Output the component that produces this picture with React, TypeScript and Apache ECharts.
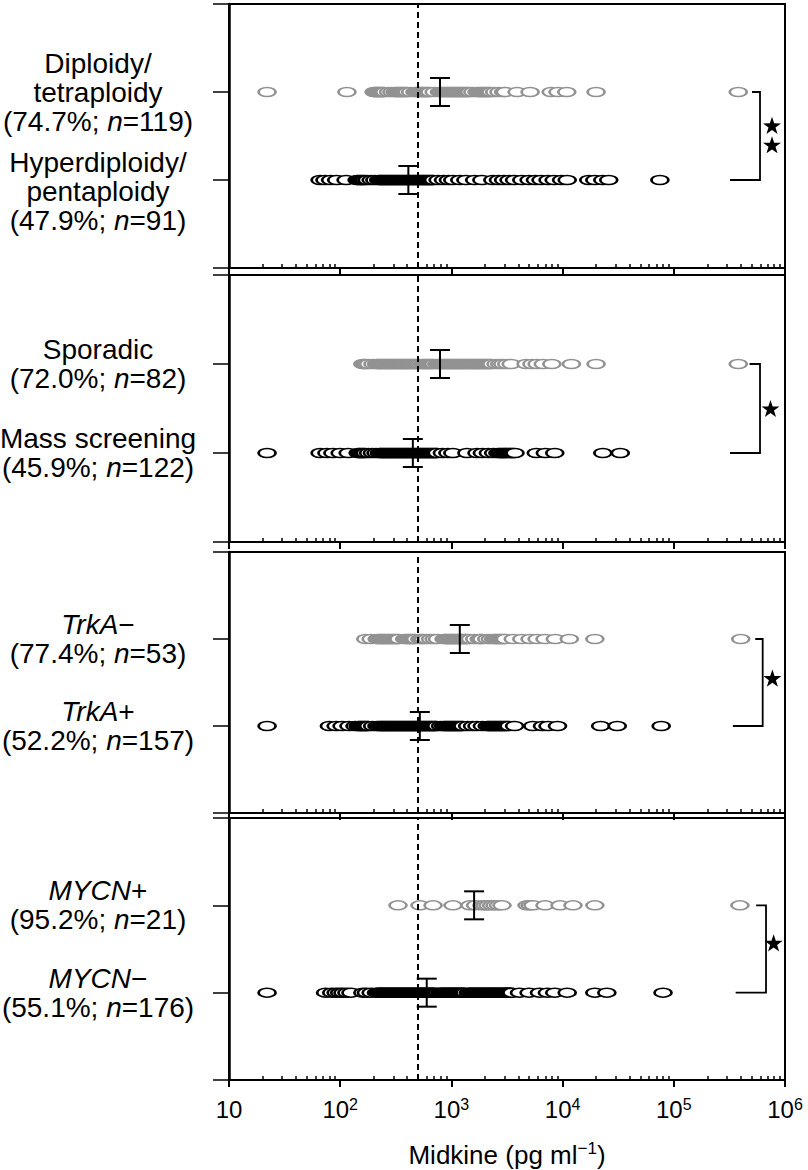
import React, { useEffect, useRef } from 'react';
import * as echarts from 'echarts';

// ---------- DATA ----------
const upperLabels = [
  'Diploidy/\ntetraploidy\n(74.7%; {i|n}=119)',
  'Sporadic\n(72.0%; {i|n}=82)',
  '{i|TrkA}−\n(77.4%; {i|n}=53)',
  '{i|MYCN}+\n(95.2%; {i|n}=21)',
];
const lowerLabels = [
  '{e| }\nHyperdiploidy/\npentaploidy\n(47.9%; {i|n}=91)',
  'Mass screening\n(45.9%; {i|n}=122)',
  '{i|TrkA}+\n(52.2%; {i|n}=157)',
  '{i|MYCN}−\n(55.1%; {i|n}=176)',
];

const diploidyValues = [22, 115,
  202, 205, 209, 213, 217, 221, 225, 230, 235, 240, 245, 251,
  272, 292, 312, 320, 329, 338, 347, 357, 367, 378, 389, 400,
  430, 470, 483, 497, 511, 526, 541, 556, 572, 589, 606, 623, 641,
  700, 780, 803, 826, 850, 875, 900, 926, 953, 980, 1008, 1037, 1067, 1098, 1130, 1162, 1196, 1230, 1266, 1302, 1340, 1378, 1418, 1459,
  1560, 1700, 1760, 1810, 1862, 1915, 1970, 2027, 2085, 2145, 2207, 2270,
  2450, 2680, 2950, 3050,
  3900, 5100, 7900, 9100, 10900, 20000, 380000];
const hyperdiploidyValues = [66, 73, 82, 93, 113,
  142, 146, 151, 156, 161, 166, 175, 190, 205, 222, 228, 234, 240, 247, 254, 261, 268, 276, 284, 292, 300, 309, 318, 327, 336, 346, 356, 366, 377, 388, 399, 411, 423, 435, 448, 461, 474, 488, 502, 517, 532, 548, 564, 580, 597, 615, 633, 652, 671, 690,
  760, 850, 940, 1030, 1190, 1350, 1620, 1880, 2360, 2650, 2950, 3300, 3700, 4300, 5000, 5700, 6400, 7400, 8400, 9800, 11000, 17200, 19500, 23000, 26000, 75000];
const sporadicValues = [160, 165, 171, 180, 197, 212, 218, 224, 230, 237, 244, 251, 258, 266, 274, 282, 290, 299, 308, 317, 326, 336, 346, 356, 367, 378, 389, 400, 412, 424, 437, 450, 463, 477, 491, 506, 521, 550, 565, 582, 599, 617, 635, 654, 673, 693, 740, 765, 788, 811, 835, 860, 885, 911, 938, 966, 995, 1024, 1054, 1085, 1117, 1150, 1184, 1219, 1255, 1292, 1330, 1369, 1409, 1451, 1494, 1538, 1583, 1630, 1678, 1727, 1778, 1830, 1884, 1940, 1997, 2056, 2116, 2178, 2242, 2308, 2520, 2720, 2900, 3150, 3450,
  4700, 5300, 5900, 6700, 8000, 12000, 20000, 380000];
const massScreeningValues = [22, 66, 76, 86, 100, 118,
  145, 149, 153, 158, 163, 168, 180, 195, 210, 225, 231, 237, 243, 249, 256, 263, 270, 277, 284, 292, 300, 308, 316, 325, 334, 343, 352, 362, 372, 382, 392, 403, 414, 425, 437, 449, 461, 474, 487, 500, 514, 528, 542, 557, 572, 588, 604, 620, 637, 655, 673, 691, 710, 729, 745,
  830, 930, 1030, 1380, 1700, 1900, 2150, 2400, 2620, 2700, 2780, 2860, 2940, 3030, 3120, 3210, 3310, 3410, 3510, 3620, 3730,
  5800, 7000, 8500, 23000, 33000];
const trkaNegValues = [170, 190, 215, 221, 228, 235, 242, 249, 257, 265, 273, 281, 290, 299, 308, 317, 327, 337, 380, 395, 408, 421, 434, 448, 462, 476, 520, 540, 560, 600, 650, 700, 750, 860, 880, 902, 924, 947, 970, 994, 1018, 1043, 1068, 1094, 1121, 1148, 1176, 1205, 1234, 1264, 1295, 1327, 1359, 1392, 1480, 1620, 1780, 1830, 1880, 2080, 2240, 2400, 2470, 2540, 2620, 2700, 2780, 2860, 2950, 3050,
  3600, 4300, 5100, 5900, 6950, 8600, 11500, 19500, 400000];
const trkaPosValues = [22, 80, 92, 104, 120, 136,
  145, 149, 153, 157, 161, 166, 170, 175, 180, 196, 214, 222, 229, 235, 241, 247, 253, 259, 266, 273, 280, 287, 294, 302, 310, 318, 326, 334, 343, 352, 361, 370, 380, 390, 400, 410, 421, 432, 443, 454, 466, 478, 490, 503, 516, 529, 543, 557, 571, 586, 601, 617, 633, 649, 666, 683, 701, 719, 737,
  800, 850, 875, 900, 926, 953, 980, 1008, 1037, 1067, 1098, 1130, 1162, 1196, 1230, 1270, 1400, 1550, 1700, 1900, 2100, 2160, 2220, 2290, 2360, 2430, 2500, 2580, 2660, 2740, 2820, 2910, 3000, 3100, 3200, 3300, 3700,
  5400, 6600, 7400, 9000, 22000, 31000, 77000];
const mycnPosValues = [331, 522, 684, 1033, 1468, 1650, 1884, 2000, 2135, 2300, 2467, 2650, 2853, 4786, 5100, 5420, 6950, 9490, 12400, 19500, 393000];
const mycnNegValues = [22, 74, 84, 92, 99, 106, 115, 125, 160, 172, 190, 212, 218, 224, 230, 236, 242, 248, 255, 262, 269, 276, 284, 292, 300, 308, 316, 325, 334, 343, 352, 362, 372, 382, 392, 403, 414, 425, 437, 449, 461, 474, 487, 500, 514, 528, 542, 557, 572, 588, 604, 620, 637, 655, 673, 691, 710, 750, 790, 812, 835, 858, 882, 906, 931, 957, 983, 1010, 1038, 1067, 1096, 1126, 1157, 1189, 1222, 1256, 1290, 1326, 1420, 1460, 1500, 1542, 1585, 1629, 1674, 1720, 1768, 1817, 1867, 1919, 1972, 2027, 2083, 2141, 2200, 2261, 2323, 2387, 2453, 2521, 2591, 2663, 2736, 2812, 2890, 2970, 3052, 3136, 3223, 3312, 3404, 3500,
  4100, 5000, 6200, 7300, 8500, 11000, 19500, 25000, 80000];

const upperValues = [diploidyValues, sporadicValues, trkaNegValues, mycnPosValues];
const lowerValues = [hyperdiploidyValues, massScreeningValues, trkaPosValues, mycnNegValues];

const upperMedians = [790, 790, 1190, 1600];
const lowerMedians = [410, 450, 520, 600];
const cutoffValue = 500;

// bracket: [top arm start, vertical x, bottom arm start]
const brackets = [
  [505000, 596000, 320000],
  [480000, 596000, 320000],
  [540000, 630000, 340000],
  [550000, 675000, 360000],
];
const starX = [764000, 740000, 770000, 790000];
const starRows = [[1.62, 1.4], [1.5], [1.55], [1.57]];

const majorTickValues = [10, 100, 1000, 10000, 100000, 1000000];
const majorTickLabels = ['10', '10{s|2}', '10{s|3}', '10{s|4}', '10{s|5}', '10{s|6}'];
const minorTickValues = [
  20, 30, 40, 50, 60, 70, 80, 90,
  200, 300, 400, 500, 600, 700, 800, 900,
  2000, 3000, 4000, 5000, 6000, 7000, 8000, 9000,
  20000, 30000, 40000, 50000, 60000, 70000, 80000, 90000,
  200000, 300000, 400000, 500000, 600000, 700000, 800000, 900000,
];
const axisTitle = 'Midkine (pg ml{s|−1})';

// ---------- LAYOUT ----------
const panelBoxes = [
  { top: 4, height: 264 },
  { top: 275, height: 267 },
  { top: 552, height: 261 },
  { top: 818, height: 262 },
];
const FONT = '"Liberation Sans", Arial, Helvetica, sans-serif';
const ELLIPSE = 'path://M0,5A8,5,0,1,1,16,5A8,5,0,1,1,0,5Z';
const STAR = 'path://M50,0L61.8,35.1L98.9,35.5L69.1,57.6L80.1,93.1L50,71.5L19.9,93.1L30.9,57.6L1.1,35.5L38.2,35.1Z';
const GREY = '#929292';

export default function App() {
  const ref = useRef<HTMLDivElement>(null);

  useEffect(() => {
    const chart = echarts.init(ref.current as HTMLDivElement, null, { renderer: 'svg' });
    const grids: any[] = [];
    const xAxes: any[] = [];
    const yAxes: any[] = [];
    const series: any[] = [];

    panelBoxes.forEach((box, i) => {
      const isLast = i === panelBoxes.length - 1;
      grids.push({
        left: 229, width: 556, top: box.top, height: box.height,
        show: true, borderColor: '#000', borderWidth: 2, backgroundColor: 'transparent',
        containLabel: false, outerBoundsMode: 'none',
      });
      xAxes.push({
        gridIndex: i, type: 'log', logBase: 10, min: 10, max: 1000000, position: 'bottom',
        axisLine: { show: true, onZero: false, lineStyle: { color: '#000', width: 2 } },
        axisTick: { show: true, inside: false, length: 7, customValues: majorTickValues, lineStyle: { color: '#000', width: 2 } },
        axisLabel: {
          show: isLast, customValues: majorTickValues, margin: 16,
          color: '#000', fontFamily: FONT, fontSize: 24, lineHeight: 26,
          formatter: (v: number) => majorTickLabels[Math.round(Math.log10(v)) - 1] || '',
          rich: { s: { fontSize: 16, lineHeight: 16, verticalAlign: 'top', fontFamily: FONT, color: '#000' } },
        },
        splitLine: { show: false },
        minorTick: { show: false },
        name: isLast ? axisTitle : '',
        nameLocation: 'middle', nameGap: 60, nameMoveOverlap: false,
        nameTextStyle: {
          color: '#000', fontFamily: FONT, fontSize: 26, lineHeight: 30,
          rich: { s: { fontSize: 17, lineHeight: 17, verticalAlign: 'top', fontFamily: FONT, color: '#000' } },
        },
      });
      xAxes.push({
        gridIndex: i, type: 'log', logBase: 10, min: 10, max: 1000000, position: 'bottom',
        axisLine: { show: false, onZero: false },
        axisTick: { show: true, inside: true, length: 4, customValues: minorTickValues, lineStyle: { color: '#000', width: 1.5 } },
        axisLabel: { show: false },
        splitLine: { show: false },
      });
      yAxes.push({
        gridIndex: i, type: 'value', min: 0, max: 3, interval: 1, position: 'left',
        axisLine: { show: true, onZero: false, lineStyle: { color: '#000', width: 2.5 } },
        axisTick: { show: true, length: 16, lineStyle: { color: '#000', width: 1.5 } },
        splitLine: { show: false },
        axisLabel: {
          show: true, margin: 131, align: 'center', color: '#000', fontFamily: FONT, fontSize: 28, lineHeight: 29,
          formatter: (v: number) => (v === 2 ? upperLabels[i] : v === 1 ? lowerLabels[i] : ''),
          rich: {
            i: { fontStyle: 'italic', fontSize: 28, lineHeight: 29, fontFamily: FONT, color: '#000' },
            e: { fontSize: 10, lineHeight: 22, fontFamily: FONT, color: '#000' },
          },
        },
      });

      const xi = i * 2;
      series.push({
        type: 'scatter', xAxisIndex: xi, yAxisIndex: i, silent: true, z: 3,
        symbol: ELLIPSE, symbolSize: [17, 9],
        itemStyle: { color: '#fff', borderColor: GREY, borderWidth: 2, opacity: 1 },
        emphasis: { disabled: true },
        data: upperValues[i].map((v) => [v, 2]),
        markLine: {
          silent: true, symbol: ['none', 'none'], label: { show: false },
          lineStyle: { type: [6, 4], color: '#000', width: 2 },
          emphasis: { disabled: true },
          data: [{ xAxis: cutoffValue }],
        },
      });
      series.push({
        type: 'scatter', xAxisIndex: xi, yAxisIndex: i, silent: true, z: 3,
        symbol: ELLIPSE, symbolSize: [17, 9],
        itemStyle: { color: '#fff', borderColor: '#000', borderWidth: 2, opacity: 1 },
        emphasis: { disabled: true },
        data: lowerValues[i].map((v) => [v, 1]),
      });
      series.push({
        type: 'custom', xAxisIndex: xi, yAxisIndex: i, silent: true, z: 5,
        data: [[upperMedians[i], 2], [lowerMedians[i], 1]],
        renderItem: (params: any, api: any) => {
          const p = api.coord([api.value(0), api.value(1)]);
          const h = 14, w = 10;
          const st = { stroke: '#000', lineWidth: 2 };
          return {
            type: 'group',
            children: [
              { type: 'line', shape: { x1: p[0], y1: p[1] - h, x2: p[0], y2: p[1] + h }, style: st },
              { type: 'line', shape: { x1: p[0] - w, y1: p[1] - h, x2: p[0] + w, y2: p[1] - h }, style: st },
              { type: 'line', shape: { x1: p[0] - w, y1: p[1] + h, x2: p[0] + w, y2: p[1] + h }, style: st },
            ],
          };
        },
      });
      series.push({
        type: 'custom', xAxisIndex: xi, yAxisIndex: i, silent: true, z: 5,
        data: [brackets[i]],
        renderItem: (params: any, api: any) => {
          const a = api.coord([api.value(0), 2]);
          const b = api.coord([api.value(1), 2]);
          const c = api.coord([api.value(1), 1]);
          const d = api.coord([api.value(2), 1]);
          return {
            type: 'polyline',
            shape: { points: [a, b, c, d] },
            style: { stroke: '#000', lineWidth: 1.8, fill: 'none' },
          };
        },
      });
      series.push({
        type: 'scatter', xAxisIndex: xi, yAxisIndex: i, silent: true, z: 5,
        symbol: STAR, symbolSize: 18, symbolKeepAspect: true,
        itemStyle: { color: '#000', borderWidth: 0, opacity: 1 },
        emphasis: { disabled: true },
        data: starRows[i].map((y) => [starX[i], y]),
      });
    });

    chart.setOption({
      animation: false,
      backgroundColor: '#fff',
      textStyle: { fontFamily: FONT },
      grid: grids,
      xAxis: xAxes,
      yAxis: yAxes,
      series,
    });
    return () => chart.dispose();
  }, []);

  return (
    <div
      ref={ref}
      style={{ position: 'absolute', left: 0, top: 0, width: 808, height: 1170 }}
    />
  );
}
